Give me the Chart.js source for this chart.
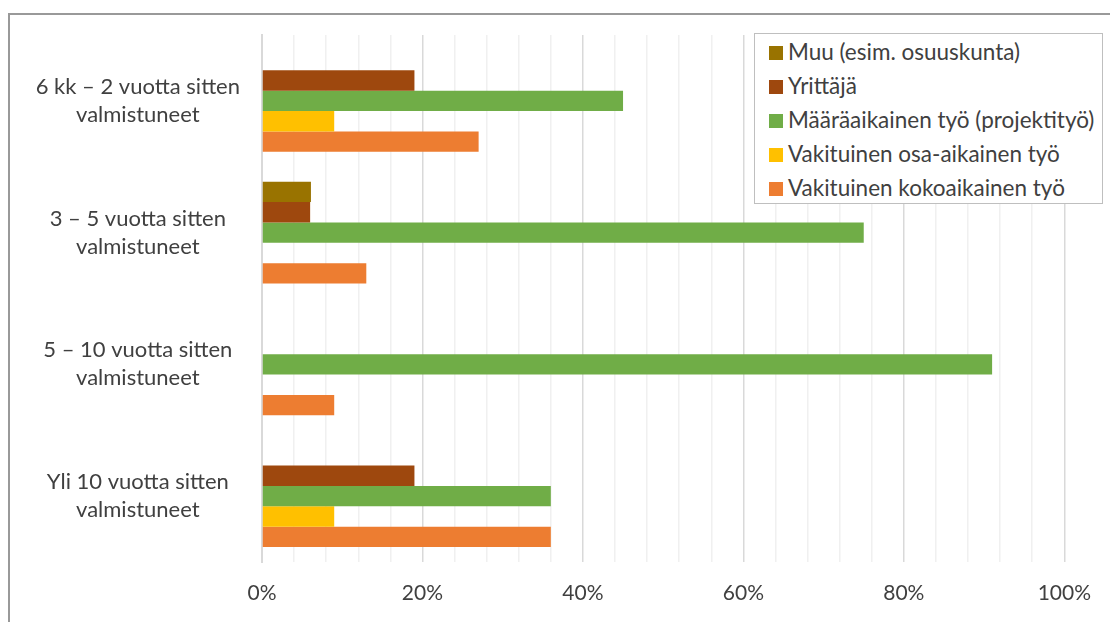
<!DOCTYPE html>
<html>
<head>
<meta charset="utf-8">
<script src="https://cdn.jsdelivr.net/npm/chart.js@4"></script>
<style>
  html, body { margin: 0; padding: 0; background: #fff; overflow: hidden; }
  #wrap { position: relative; width: 1110px; height: 622px; overflow: hidden; font-family: Lato, sans-serif; }
  #frame { position: absolute; left: 8px; top: 13px; width: 1200px; height: 700px; border: 2px solid #999999; }
  #myChart { position: absolute; left: 0; top: 0; }
  #legend { position: absolute; left: 754px; top: 33px; width: 347px; height: 169px; border: 1px solid #bfbfbf; background: #fff; z-index: 2; }
  .item { position: absolute; left: 14px; height: 26px; line-height: 26px; font-size: 22.5px; color: #404040; white-space: nowrap; }
  .box { display: inline-block; width: 14px; height: 14px; margin-right: 5px; vertical-align: 0px; }
</style>
</head>
<body>
<div id="wrap">
  <div id="frame"></div>
  <canvas id="myChart" width="1110" height="622"></canvas>
  <div id="legend"></div>
</div>
<script>
// categories (top to bottom)
const categories = [
    ['6 kk – 2 vuotta sitten', 'valmistuneet'],
    ['3 – 5 vuotta sitten', 'valmistuneet'],
    ['5 – 10 vuotta sitten', 'valmistuneet'],
    ['Yli 10 vuotta sitten', 'valmistuneet']
];

// series values in %
const muu = [0, 6.1, 0, 0];
const yrittaja = [19, 6, 0, 19];
const maaraaikainen = [45, 75, 91, 36];
const osaAikainen = [9, 0, 0, 9];
const kokoaikainen = [27, 13, 9, 36];

const seriesNames = [
    'Muu (esim. osuuskunta)',
    'Yrittäjä',
    'Määräaikainen työ (projektityö)',
    'Vakituinen osa-aikainen työ',
    'Vakituinen kokoaikainen työ'
];
const seriesColors = ['#997300', '#9e480e', '#70ad47', '#ffc000', '#ed7d31'];
const seriesValues = [muu, yrittaja, maaraaikainen, osaAikainen, kokoaikainen];

const majorTicks = ['0%', '20%', '40%', '60%', '80%', '100%'];

const data = {
    labels: categories,
    datasets: seriesNames.map((name, i) => ({
        label: name,
        data: seriesValues[i],
        backgroundColor: seriesColors[i],
        borderWidth: 0,
        categoryPercentage: 0.774,
        barPercentage: 1.0
    }))
};

const config = {
    type: 'bar',
    data: data,
    options: {
        indexAxis: 'y',
        responsive: false,
        animation: false,
        layout: {
            padding: { left: 20, right: 44, top: 35, bottom: 18 }
        },
        plugins: {
            legend: { display: false },
            tooltip: { enabled: false }
        },
        scales: {
            x: {
                min: 0,
                max: 100,
                afterFit: function (scale) { scale.height = 42; },
                ticks: {
                    stepSize: 4,
                    autoSkip: false,
                    maxRotation: 0,
                    padding: 19,
                    color: '#404040',
                    font: { family: 'Lato', size: 21 },
                    callback: function (value) {
                        const v = Math.round(value);
                        return v % 20 === 0 ? majorTicks[v / 20] : '';
                    }
                },
                grid: {
                    drawTicks: false,
                    lineWidth: 1.5,
                    color: function (ctx) {
                        const v = Math.round(ctx.tick.value);
                        return v % 20 === 0 ? '#d9d9d9' : '#f0f0f0';
                    }
                },
                border: { display: false }
            },
            y: {
                grid: { display: false, drawTicks: false },
                border: { display: true, color: '#d9d9d9', width: 2 },
                afterFit: function (scale) {
                    scale.width = 242;
                    // labels sit well inside their bands, no extra room needed
                    scale.paddingTop = 0;
                    scale.paddingBottom = 0;
                },
                ticks: {
                    crossAlign: 'center',
                    padding: 22,
                    color: '#404040',
                    font: { family: 'Lato', size: 22, lineHeight: 1.27 }
                }
            }
        }
    }
};

const myChart = new Chart(document.getElementById('myChart'), config);

// legend inside the plot, like the original
const legendDiv = document.getElementById('legend');
seriesNames.forEach((name, i) => {
    const row = document.createElement('div');
    row.className = 'item';
    row.style.top = (5 + i * 34) + 'px';
    row.innerHTML = '<span class="box" style="background:' + seriesColors[i] + '"></span>' + name;
    legendDiv.appendChild(row);
});
</script>
</body>
</html>
